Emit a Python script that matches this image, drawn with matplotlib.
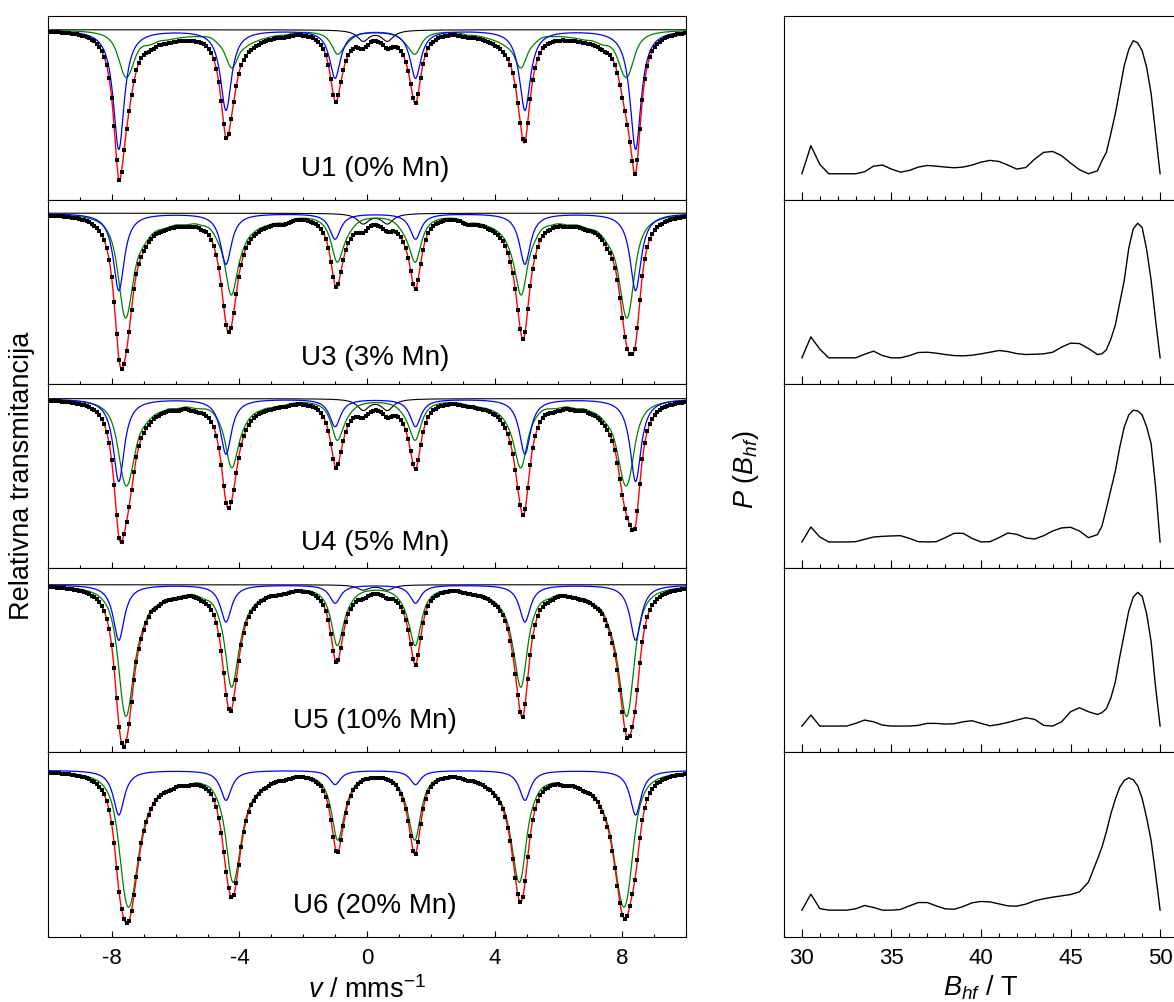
"""
    Mossbauer spectra (left) and hyperfine field distributions P(B_hf) (right)
    for the U1..U6 samples.
"""

import numpy as np
import matplotlib
matplotlib.use("Agg")
import matplotlib.pyplot as plt
from matplotlib.ticker import MultipleLocator

plt.rcParams['font.family'] = ['Liberation Sans', 'DejaVu Sans']
plt.rcParams['mathtext.fontset'] = 'custom'
plt.rcParams['mathtext.rm'] = 'Liberation Sans'
plt.rcParams['mathtext.it'] = 'Liberation Sans:italic'
plt.rcParams['axes.unicode_minus'] = False

# ---- data ----
SAMPLES = ['U1 (0% Mn)', 'U3 (3% Mn)', 'U4 (5% Mn)', 'U5 (10% Mn)', 'U6 (20% Mn)']

# hyperfine field grid (T) where P(B) was read: 0.5 T steps, 0.25 T over the main peak
B_HF = np.concatenate([np.arange(30.0, 46.01, 0.5), np.arange(46.5, 50.01, 0.25)])
P_U1 = [0, 0.21, 0.07, 0, 0, 0, 0, 0.015, 0.057, 0.065, 0.035, 0.012, 0.025, 0.05,
        0.062, 0.057, 0.05, 0.045, 0.05, 0.065, 0.087, 0.10, 0.092, 0.065, 0.035,
        0.047, 0.11, 0.16, 0.167, 0.135, 0.08, 0.03, 0,
        0.022, 0.097, 0.16, 0.3, 0.45, 0.63, 0.81, 0.93, 0.995, 0.98, 0.92, 0.795,
        0.6, 0.3, 0]
P_U3 = [0, 0.157, 0.065, 0, 0, 0, 0, 0.027, 0.05, 0.017, 0, 0, 0.017, 0.04, 0.042,
        0.035, 0.025, 0.017, 0.015, 0.02, 0.03, 0.042, 0.055, 0.047, 0.032, 0.025,
        0.027, 0.03, 0.042, 0.08, 0.11, 0.107, 0.07,
        0.025, 0.03, 0.06, 0.14, 0.245, 0.414, 0.58, 0.82, 0.965, 1.007, 0.975, 0.81,
        0.58, 0.28, 0]
P_U4 = [0, 0.112, 0.037, 0, 0, 0, 0.002, 0.02, 0.037, 0.042, 0.045, 0.047, 0.027,
        0.002, 0, 0.002, 0.032, 0.065, 0.065, 0.027, 0, 0.002, 0.032, 0.067, 0.057,
        0.03, 0.022, 0.047, 0.082, 0.105, 0.11, 0.082, 0.032,
        0.055, 0.117, 0.25, 0.39, 0.53, 0.71, 0.86, 0.95, 0.985, 0.98, 0.95, 0.86,
        0.735, 0.41, 0]
P_U5 = [0, 0.082, 0, 0, 0, 0, 0.02, 0.045, 0.032, 0.007, 0, 0, 0, 0.005, 0.02, 0.02,
        0.015, 0.017, 0.032, 0.04, 0.02, 0.002, 0.012, 0.027, 0.045, 0.062, 0.05,
        0.005, 0, 0.032, 0.107, 0.137, 0.107,
        0.087, 0.1, 0.13, 0.21, 0.33, 0.52, 0.69, 0.86, 0.965, 1.0, 0.97, 0.84,
        0.63, 0.29, 0]
P_U6 = [0, 0.12, 0.012, 0, 0, 0, 0.01, 0.035, 0.02, 0, 0, 0.005, 0.032, 0.057, 0.057,
        0.032, 0.01, 0.007, 0.027, 0.055, 0.065, 0.062, 0.047, 0.032, 0.03, 0.045,
        0.07, 0.085, 0.097, 0.107, 0.117, 0.137, 0.21,
        0.38, 0.47, 0.585, 0.72, 0.83, 0.92, 0.97, 0.99, 0.975, 0.93, 0.835, 0.69,
        0.52, 0.27, 0]
P_ALL = [P_U1, P_U3, P_U4, P_U5, P_U6]

# discrete sextet (blue): line positions (mm/s) and depths of lines 1-3 (%)
BLUE_POS = [-7.78, -4.42, -1.0, 1.52, 4.95, 8.42]
BLUE_DEPTH = [[7.1, 4.76, 2.84],
              [4.6, 3.02, 1.52],
              [4.92, 3.28, 1.64],
              [3.3, 2.2, 1.08],
              [2.66, 1.78, 0.84]]
GAMMA_BLUE = 0.42

# distributed sextet (green): depth of line 1 (%), isomer shift, line width
GREEN_DEPTH = [2.84, 6.24, 5.2, 7.84, 8.16]
IS_GREEN = 0.29
GAMMA_GREEN = 0.45
FE_K = [-0.16145, -0.09342, -0.02542, 0.02542, 0.09342, 0.16145]  # mm/s per T
FE_REL = [3, 2, 1, 1, 2, 3]

# paramagnetic doublet (black)
DOUBLET_POS = [-0.12, 0.64]
DOUBLET_DEPTH = [0.64, 0.6, 0.66, 0.3, 0.0]
GAMMA_DOUBLET = 0.45

# layout of each spectrum panel (transmission %, baseline = 100)
SPEC_YLIM = [(89.86, 100.82), (89.82, 100.78), (89.9, 100.86), (90.02, 100.98), (90.1, 101.06)]
LABEL_Y = [0.168, 0.14, 0.14, 0.168, 0.168]


def lorentz(v, pos, depth, gamma):
    hw = gamma / 2
    return depth * hw ** 2 / ((v - pos) ** 2 + hw ** 2)


def blue_abs(v, depths):
    d = list(depths) + list(depths[::-1])
    return sum(lorentz(v, p, a, GAMMA_BLUE) for p, a in zip(BLUE_POS, d))


def green_abs(v, p_b, depth):
    s = np.zeros_like(v)
    dB = np.gradient(B_HF)
    for b, w, db in zip(B_HF, p_b, dB):
        for k, r in zip(FE_K, FE_REL):
            s += lorentz(v, IS_GREEN + k * b, w * r * db, GAMMA_GREEN)
    return depth * s / s.max()


def doublet_abs(v, depth):
    return sum(lorentz(v, p, depth, GAMMA_DOUBLET) for p in DOUBLET_POS)


def model(v, i):
    b = blue_abs(v, BLUE_DEPTH[i])
    g = green_abs(v, P_ALL[i], GREEN_DEPTH[i])
    d = doublet_abs(v, DOUBLET_DEPTH[i])
    return b, g, d


fig = plt.figure(figsize=(11.74, 10.02), dpi=100)
W, H = 1174, 1002
top = 1 - 16 / H
bottom = 1 - 936.5 / H
h = (top - bottom) / 5

v_line = np.linspace(-10, 10, 2001)
v_chan = np.linspace(-9.96, 9.96, 256)   # folded 512-channel spectrum

for i in range(5):
    y0 = top - (i + 1) * h
    # ---- spectrum ----
    ax = fig.add_axes([48 / W, y0, 638 / W, h])
    b, g, d = model(v_line, i)
    bc, gc, dc = model(v_chan, i)
    if DOUBLET_DEPTH[i] > 0:
        ax.plot(v_line, 100 - d, color='black', lw=0.8, zorder=2)
    ax.plot(v_line, 100 - g, color='#008000', lw=0.9, zorder=3)
    ax.plot(v_line, 100 - b, color='#0000ff', lw=0.9, zorder=4)
    ax.plot(v_line, 100 - b - g - d, color='#ff0000', lw=1.0, zorder=5)
    ax.plot(v_chan, 100 - bc - gc - dc, ls='none', marker='s', ms=2.4, mew=0,
            color='black', zorder=6)
    ax.set_xlim(-10, 10)
    ax.set_ylim(*SPEC_YLIM[i])
    ax.text(0.25, SPEC_YLIM[i][0] + LABEL_Y[i] * (SPEC_YLIM[i][1] - SPEC_YLIM[i][0]),
            SAMPLES[i], ha='center', va='center', fontsize=20)
    ax.xaxis.set_major_locator(MultipleLocator(4))
    ax.xaxis.set_minor_locator(MultipleLocator(1))
    ax.tick_params(axis='x', which='major', direction='in', length=4, width=0.8,
                   labelsize=16, pad=8, labelbottom=(i == 4))
    ax.tick_params(axis='x', which='minor', direction='in', length=2.2, width=0.8)
    ax.tick_params(axis='y', left=False, labelleft=False)
    for s in ax.spines.values():
        s.set_linewidth(0.8)

    # ---- P(B) distribution ----
    axr = fig.add_axes([784 / W, y0, 394 / W, h])
    axr.plot(B_HF, P_ALL[i], color='black', lw=1.0)
    axr.set_xlim(29, 51)
    axr.set_ylim(-0.197, 1.18)
    axr.xaxis.set_major_locator(MultipleLocator(5))
    axr.xaxis.set_minor_locator(MultipleLocator(1))
    axr.tick_params(axis='x', which='major', direction='in', length=5.5, width=0.8,
                    labelsize=16, pad=8, labelbottom=(i == 4))
    axr.tick_params(axis='x', which='minor', direction='in', length=2.8, width=0.8)
    axr.tick_params(axis='y', left=False, labelleft=False)
    for s in axr.spines.values():
        s.set_linewidth(0.8)

fig.text(367 / W, 1 - 990 / H, r'$v$ / mms$^{-1}$', ha='center', va='center', fontsize=19.5)
fig.text(981 / W, 1 - 988 / H, r'$B_{hf}$ / T', ha='center', va='center', fontsize=19.5)
fig.text(22 / W, 1 - 476 / H, 'Relativna transmitancija', rotation=90,
         ha='center', va='center', fontsize=19.5)
fig.text(746 / W, 1 - 470 / H, r'$P\ (B_{hf})$', rotation=90,
         ha='center', va='center', fontsize=19.5)

fig.savefig('out.png', dpi=100)
